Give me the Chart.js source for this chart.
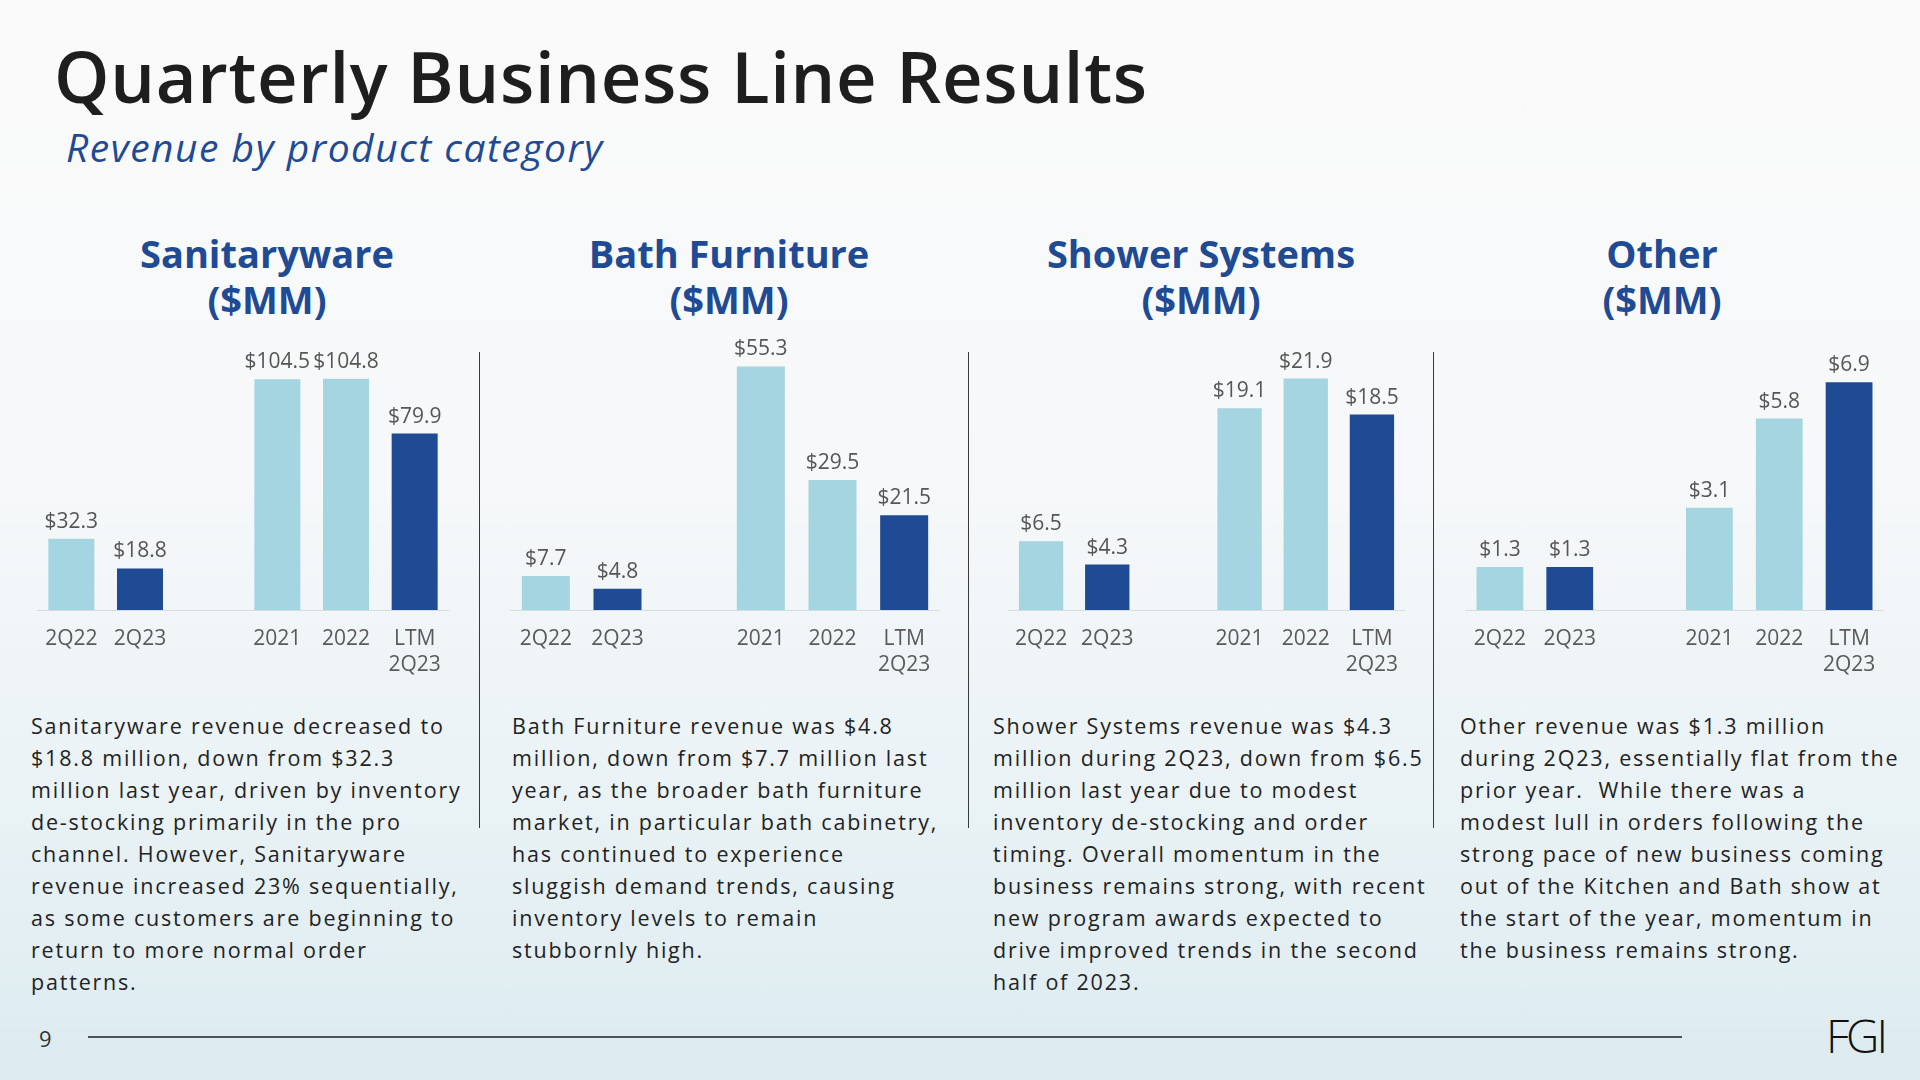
<!DOCTYPE html>
<html>
<head>
<meta charset="utf-8">
<script src="https://cdn.jsdelivr.net/npm/chart.js@4.4.0/dist/chart.umd.min.js"></script>
<style>
  html, body { margin: 0; padding: 0; }
  body {
    width: 1920px; height: 1080px; position: relative; overflow: hidden;
    background: linear-gradient(to bottom, #fafafa 0%, #f6f8f9 45%, #e9f2f5 75%, #dcebf0 100%);
    font-family: 'Open Sans', 'Noto Sans', sans-serif;
  }
  .title {
    position: absolute; left: 54px; top: 41px; margin: 0;
    font-size: 70.5px; font-weight: 650; color: #1e1e1e; line-height: 1; letter-spacing: 0.7px;
  }
  .subtitle {
    position: absolute; left: 66px; top: 127px; margin: 0;
    font-size: 39px; font-weight: 400; font-style: italic; color: #1f4a94; line-height: 1; letter-spacing: 1.5px;
  }
  .panel-title {
    position: absolute; top: 230px; width: 420px; margin-left: -210px; text-align: center;
    font-size: 38px; font-weight: 700; color: #1f4a94; line-height: 46px;
  }
  .chart-box { position: absolute; top: 300px; height: 390px; }
  .divider { position: absolute; top: 352px; height: 476px; width: 0; border-left: 1.5px solid #3a3a3a; }
  .para {
    position: absolute; top: 710px; margin: 0; white-space: nowrap;
    font-size: 21.5px; line-height: 32px; letter-spacing: 1.8px; color: #232323;
  }
  .page-num { position: absolute; left: 39px; top: 1023px; font-size: 22px; color: #333; }
  .footer-line { position: absolute; left: 88px; top: 1036px; width: 1594px; height: 0; border-top: 2px solid #4a5358; }
  .logo { position: absolute; left: 1826px; top: 1012px; font-size: 46px; font-weight: 300; color: #111; letter-spacing: -3px; line-height: 1; }
</style>
</head>
<body>
<h1 class="title">Quarterly Business Line Results</h1>
<h2 class="subtitle">Revenue by product category</h2>

<div class="panel-title" style="left:267px">Sanitaryware<br>($MM)</div>
<div class="panel-title" style="left:729px">Bath Furniture<br>($MM)</div>
<div class="panel-title" style="left:1201px">Shower Systems<br>($MM)</div>
<div class="panel-title" style="left:1662px">Other<br>($MM)</div>

<div class="chart-box" style="left:37px;width:412px"><canvas id="chart0"></canvas></div>
<div class="chart-box" style="left:510px;width:430px"><canvas id="chart1"></canvas></div>
<div class="chart-box" style="left:1008px;width:397px"><canvas id="chart2"></canvas></div>
<div class="chart-box" style="left:1465px;width:419px"><canvas id="chart3"></canvas></div>

<div class="divider" style="left:479px"></div>
<div class="divider" style="left:968px"></div>
<div class="divider" style="left:1433px"></div>

<p class="para" style="left:31px">Sanitaryware revenue decreased to<br>$18.8 million, down from $32.3<br>million last year, driven by inventory<br>de-stocking primarily in the pro<br>channel. However, Sanitaryware<br>revenue increased 23% sequentially,<br>as some customers are beginning to<br>return to more normal order<br>patterns.</p>
<p class="para" style="left:512px">Bath Furniture revenue was $4.8<br>million, down from $7.7 million last<br>year, as the broader bath furniture<br>market, in particular bath cabinetry,<br>has continued to experience<br>sluggish demand trends, causing<br>inventory levels to remain<br>stubbornly high.</p>
<p class="para" style="left:993px">Shower Systems revenue was $4.3<br>million during 2Q23, down from $6.5<br>million last year due to modest<br>inventory de-stocking and order<br>timing. Overall momentum in the<br>business remains strong, with recent<br>new program awards expected to<br>drive improved trends in the second<br>half of 2023.</p>
<p class="para" style="left:1460px">Other revenue was $1.3 million<br>during 2Q23, essentially flat from the<br>prior year.&nbsp; While there was a<br>modest lull in orders following the<br>strong pace of new business coming<br>out of the Kitchen and Bath show at<br>the start of the year, momentum in<br>the business remains strong.</p>

<div class="page-num">9</div>
<div class="footer-line"></div>
<div class="logo">FGI</div>

<script>
// Categories (blank slot separates quarters from full years)
const categories = ['2Q22', '2Q23', '', '2021', '2022', ['LTM', '2Q23']];

// Revenue, $MM
const sanitaryware  = [32.3, 18.8, null, 104.5, 104.8, 79.9];
const bathFurniture = [7.7, 4.8, null, 55.3, 29.5, 21.5];
const showerSystems = [6.5, 4.3, null, 19.1, 21.9, 18.5];
const otherRevenue  = [1.3, 1.3, null, 3.1, 5.8, 6.9];

const LIGHT = '#a4d5e0';
const DARK = '#1f4a94';
const barColors = [LIGHT, DARK, LIGHT, LIGHT, LIGHT, DARK];

// per-panel axis ceiling so the bars sit at the same height as the slide
const panels = [
    { id: 'chart0', data: sanitaryware, yMax: 122.3 },
    { id: 'chart1', data: bathFurniture, yMax: 61.3 },
    { id: 'chart2', data: showerSystems, yMax: 25.55 },
    { id: 'chart3', data: otherRevenue, yMax: 8.18 }
];

// $ labels over each bar
const valueLabels = {
    id: 'valueLabels',
    afterDatasetsDraw(chart) {
        const ctx = chart.ctx;
        const meta = chart.getDatasetMeta(0);
        const values = chart.data.datasets[0].data;
        ctx.save();
        ctx.font = '21px "Open Sans", sans-serif';
        ctx.fillStyle = '#565656';
        ctx.textAlign = 'center';
        ctx.textBaseline = 'alphabetic';
        meta.data.forEach((bar, i) => {
            if (values[i] == null) return;
            ctx.fillText('$' + values[i].toFixed(1), bar.x, bar.y - 11);
        });
        ctx.restore();
    }
};

panels.forEach(p => {
    new Chart(document.getElementById(p.id), {
        type: 'bar',
        data: {
            labels: categories,
            datasets: [{
                data: p.data,
                backgroundColor: barColors,
                barPercentage: 0.67,
                categoryPercentage: 1.0,
                borderWidth: 0
            }]
        },
        options: {
            responsive: true,
            maintainAspectRatio: false,
            animation: false,
            layout: { padding: { top: 40, left: 0, right: 0, bottom: 0 } },
            plugins: {
                legend: { display: false },
                tooltip: { enabled: false }
            },
            scales: {
                x: {
                    grid: { display: false, drawTicks: false },
                    border: { display: true, color: '#d8dcdf', width: 1 },
                    ticks: {
                        color: '#5a5a5a',
                        font: { size: 21, family: '"Open Sans", sans-serif', lineHeight: 1.25 },
                        padding: 16,
                        maxRotation: 0,
                        autoSkip: false
                    },
                    afterFit: (scale) => {
                        // fixed axis band, and keep the slots spanning the full canvas width
                        scale.height = 80;
                        scale.paddingLeft = 0;
                        scale.paddingRight = 0;
                    }
                },
                y: {
                    display: false,
                    min: 0,
                    max: p.yMax
                }
            }
        },
        plugins: [valueLabels]
    });
});
</script>
</body>
</html>
